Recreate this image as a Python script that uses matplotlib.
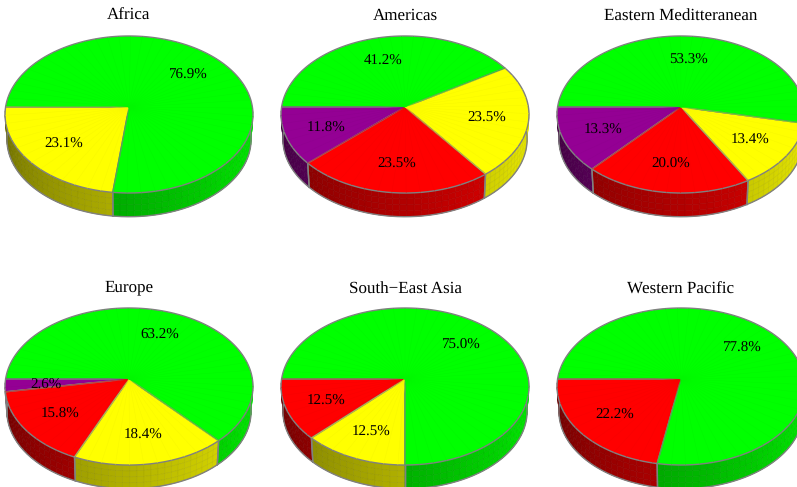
import numpy as np
import matplotlib
matplotlib.use('Agg')
from matplotlib import pyplot as plt
from matplotlib.collections import PolyCollection, LineCollection
from matplotlib.patches import Polygon

plt.rcParams['font.family'] = ['Liberation Serif', 'DejaVu Serif']
plt.rcParams['text.hinting'] = 'none'
plt.rcParams['text.hinting_factor'] = 1

# Percent of each region, the wedges run counterclockwise from the left
regions = ['Africa', 'Americas', 'Eastern Meditteranean',
           'Europe', 'South\u2212East Asia', 'Western Pacific']
purple = [0, 11.8, 13.3, 2.6, 0, 0]
red = [0, 23.5, 20.0, 15.8, 12.5, 22.2]
yellow = [23.1, 23.5, 13.4, 18.4, 12.5, 0]
green = [76.9, 41.2, 53.3, 63.2, 75.0, 77.8]

top_colors = [(0.58, 0, 0.58), (1, 0, 0), (1, 1, 0), (0, 1, 0)]

# pie centres and title heights in figure pixels
W, H = 797, 487
centers = [(129, 107), (405, 107), (681, 107), (129, 379), (405, 379), (681, 379)]
title_y = [15, 15, 15, 286, 288, 288]


def project(t, r=1.0, scale=1.0, drop=0.0):
    # circle of the pie seen in perspective, back of the pie is smaller
    u = r * np.cos(t)
    v = r * np.sin(t)
    w = 1 + 0.0955 * v
    return scale * 123.4 * u / w, scale * 77.8 * v / w - drop


def shade(color, t):
    f = 0.42 + 0.55 * ((np.degrees(t) % 360) - 180) / 180
    f = np.clip(f, 0.4, 0.97)
    return (color[0] * f, color[1] * f, color[2] * f)


fig = plt.figure(figsize=(W / 100, H / 100), dpi=100)

for i, name in enumerate(regions):
    cx, cy = centers[i]
    ax = fig.add_axes([(cx - 140) / W, 1 - (cy + 125) / H, 280 / W, 210 / H])
    ax.set_xlim(-140, 140)
    ax.set_ylim(-125, 85)
    ax.axis('off')

    values = [purple[i], red[i], yellow[i], green[i]]
    start = np.pi
    wedges = []
    for val, col in zip(values, top_colors):
        if val > 0:
            end = start + val / 100 * 2 * np.pi
            wedges.append((start, end, col, val))
            start = end

    # side wall first
    for a, b, col, val in wedges:
        n = max(int((b - a) / np.radians(3)), 2)
        ts = np.linspace(a, b, n + 1)
        polys, faces = [], []
        for t0, t1 in zip(ts[:-1], ts[1:]):
            if np.sin((t0 + t1) / 2) > 0.01:
                continue
            for k in range(4):
                d0, d1 = k * 25 / 4, (k + 1) * 25 / 4
                s0, s1 = 1 - k * 0.015 / 4, 1 - (k + 1) * 0.015 / 4
                x0, y0 = project(t0, scale=s0, drop=d0)
                x1, y1 = project(t1, scale=s0, drop=d0)
                x2, y2 = project(t1, scale=s1, drop=d1)
                x3, y3 = project(t0, scale=s1, drop=d1)
                polys.append([(x0, y0), (x1, y1), (x2, y2), (x3, y3)])
                faces.append(shade(col, (t0 + t1) / 2))
        if polys:
            edges = [tuple(0.93 * c for c in f) for f in faces]
            ax.add_collection(PolyCollection(polys, facecolors=faces, edgecolors=edges,
                                             linewidths=0.4, zorder=1))
    # outline of the wall and its corners
    ts = np.linspace(np.pi, np.pi * 2, 200)
    bx, by = project(ts, scale=0.985, drop=25)
    ax.plot(bx, by, color='#808080', lw=1, zorder=2)
    for a, b, col, val in wedges:
        for t in (a, b):
            if np.sin(t) < -0.01:
                x0, y0 = project(t)
                x1, y1 = project(t, scale=0.985, drop=25)
                ax.plot([x0, x1], [y0, y1], color='#808080', lw=1, zorder=2)

    # top of the pie
    for a, b, col, val in wedges:
        ts = np.linspace(a, b, 200)
        x, y = project(ts)
        pts = np.column_stack([np.r_[0, x], np.r_[0, y]])
        ax.add_patch(Polygon(pts, closed=True, facecolor=col, edgecolor='#808080',
                             lw=1, zorder=3))
        # faint mesh on the top
        segs = []
        for t in np.arange(a, b, np.radians(6)):
            xe, ye = project(t)
            segs.append([(0, 0), (xe, ye)])
        ax.add_collection(LineCollection(segs, colors=[tuple(0.97 * c for c in col)],
                                         linewidths=0.3, zorder=3.5))
    for a, b, col, val in wedges:
        mid = (a + b) / 2
        x, y = project(mid, r=0.67)
        ax.annotate(f'{val:.1f}%', (x, y), xytext=(-0.5, -1.5), textcoords='offset pixels',
                    ha='center', va='center', fontsize=10.5, color='black', zorder=5)
    fig.text(cx / W, 1 - (title_y[i] + 1.2) / H, name, ha='center', va='center',
             fontsize=12, color='black')

fig.savefig('out.png', dpi=100)
